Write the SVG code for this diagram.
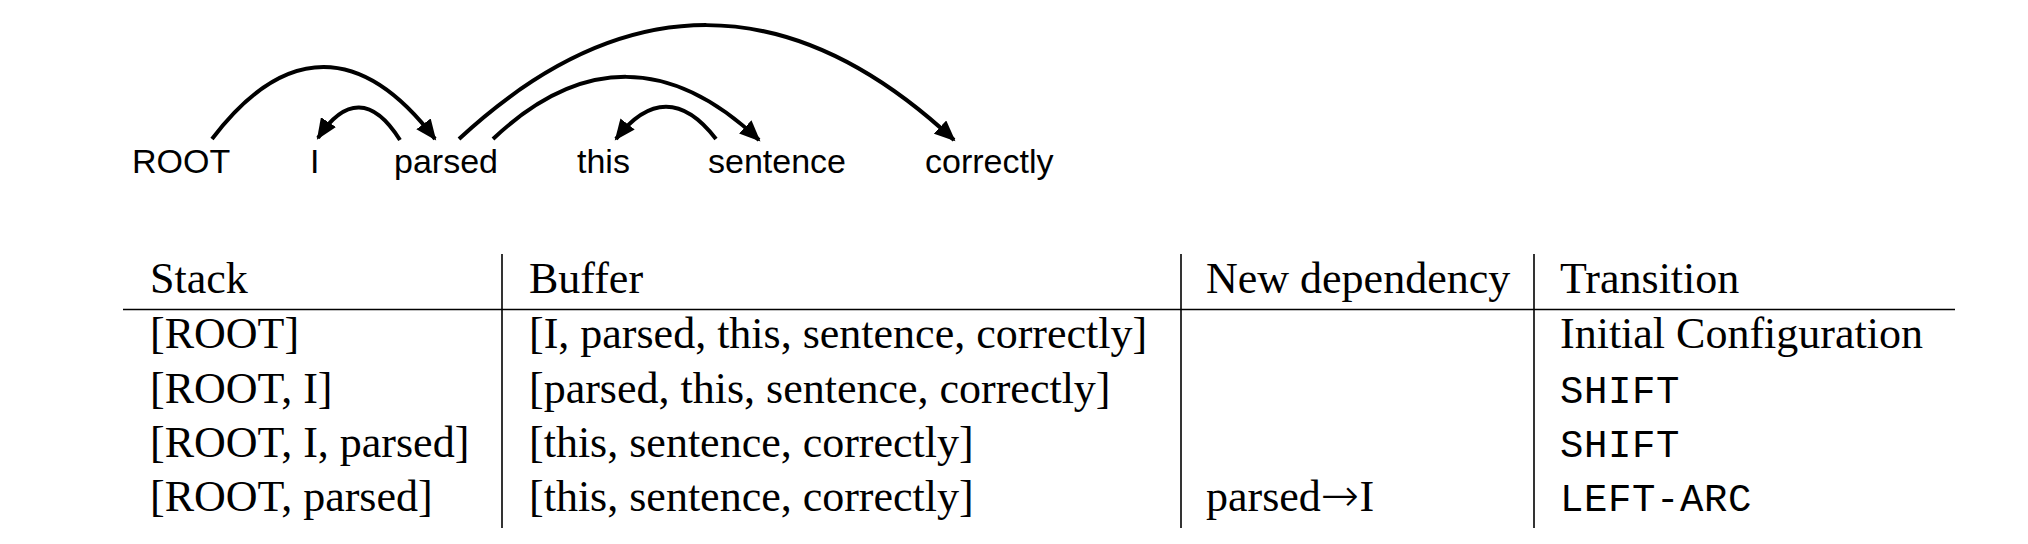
<svg xmlns="http://www.w3.org/2000/svg" width="2028" height="544" viewBox="0 0 2028 544">
<style>
.word{font-family:"Liberation Sans",Arial,sans-serif;font-size:34px;fill:#000}
.cell{font-family:"Liberation Serif","Times New Roman",serif;font-size:44px;fill:#000}
.mono{font-family:"Liberation Mono","Courier New",monospace;font-size:39px;letter-spacing:0.6px;fill:#000}
.arrowch{font-family:"DejaVu Sans",sans-serif;font-size:46px;font-weight:200}
.arc{fill:none;stroke:#000;stroke-width:4}
.rule{stroke:#000;stroke-width:1.6}
</style>
<defs>
<marker id="ah" markerUnits="userSpaceOnUse" markerWidth="22" markerHeight="18" refX="19" refY="9" orient="auto">
<path d="M0,0 L21,9 L0,18 z" fill="#000"/>
</marker>
</defs>
<rect width="2028" height="544" fill="#fff"/>
<g id="words">
<g id="w-root"><text class="word" x="132" y="173">ROOT</text></g>
<g id="w-i"><text class="word" x="310" y="173">I</text></g>
<g id="w-parsed"><text class="word" x="394" y="173">parsed</text></g>
<g id="w-this"><text class="word" x="577" y="173">this</text></g>
<g id="w-sentence"><text class="word" x="708" y="173">sentence</text></g>
<g id="w-correctly"><text class="word" x="925" y="173">correctly</text></g>
</g>
<g id="connectors">
<path class="arc" marker-end="url(#ah)" d="M212,139 C285,43 362,43 435,139"/>
<path class="arc" marker-end="url(#ah)" d="M400,140 C373,97 345,97 318,138"/>
<path class="arc" marker-end="url(#ah)" d="M459,139 C623,-13 790,-13 954,140"/>
<path class="arc" marker-end="url(#ah)" d="M493,139 C581,56 671,56 759,140"/>
<path class="arc" marker-end="url(#ah)" d="M716,139 C683,96 649,96 616,139"/>
</g>
<g id="table">
<g id="rules">
<line class="rule" x1="123" y1="309.5" x2="1955" y2="309.5"/>
<line class="rule" x1="502" y1="254" x2="502" y2="528"/>
<line class="rule" x1="1181" y1="254" x2="1181" y2="528"/>
<line class="rule" x1="1534" y1="254" x2="1534" y2="528"/>
</g>
<g id="header">
<text class="cell" x="150" y="293">Stack</text>
<text class="cell" x="529" y="293">Buffer</text>
<text class="cell" x="1206" y="293">New dependency</text>
<text class="cell" x="1560" y="293">Transition</text>
</g>
<g id="row1">
<text class="cell" x="150" y="348">[ROOT]</text>
<text class="cell" x="529" y="348">[I, parsed, this, sentence, correctly]</text>
<text class="cell" x="1560" y="348">Initial Configuration</text>
</g>
<g id="row2">
<text class="cell" x="150" y="403">[ROOT, I]</text>
<text class="cell" x="529" y="403">[parsed, this, sentence, correctly]</text>
<text class="mono" x="1560" y="403">SHIFT</text>
</g>
<g id="row3">
<text class="cell" x="150" y="457">[ROOT, I, parsed]</text>
<text class="cell" x="529" y="457">[this, sentence, correctly]</text>
<text class="mono" x="1560" y="457">SHIFT</text>
</g>
<g id="row4">
<text class="cell" x="150" y="511">[ROOT, parsed]</text>
<text class="cell" x="529" y="511">[this, sentence, correctly]</text>
<text class="cell" x="1206" y="511">parsed<tspan class="arrowch">→</tspan>I</text>
<text class="mono" x="1560" y="511">LEFT-ARC</text>
</g>
</g>
</svg>
